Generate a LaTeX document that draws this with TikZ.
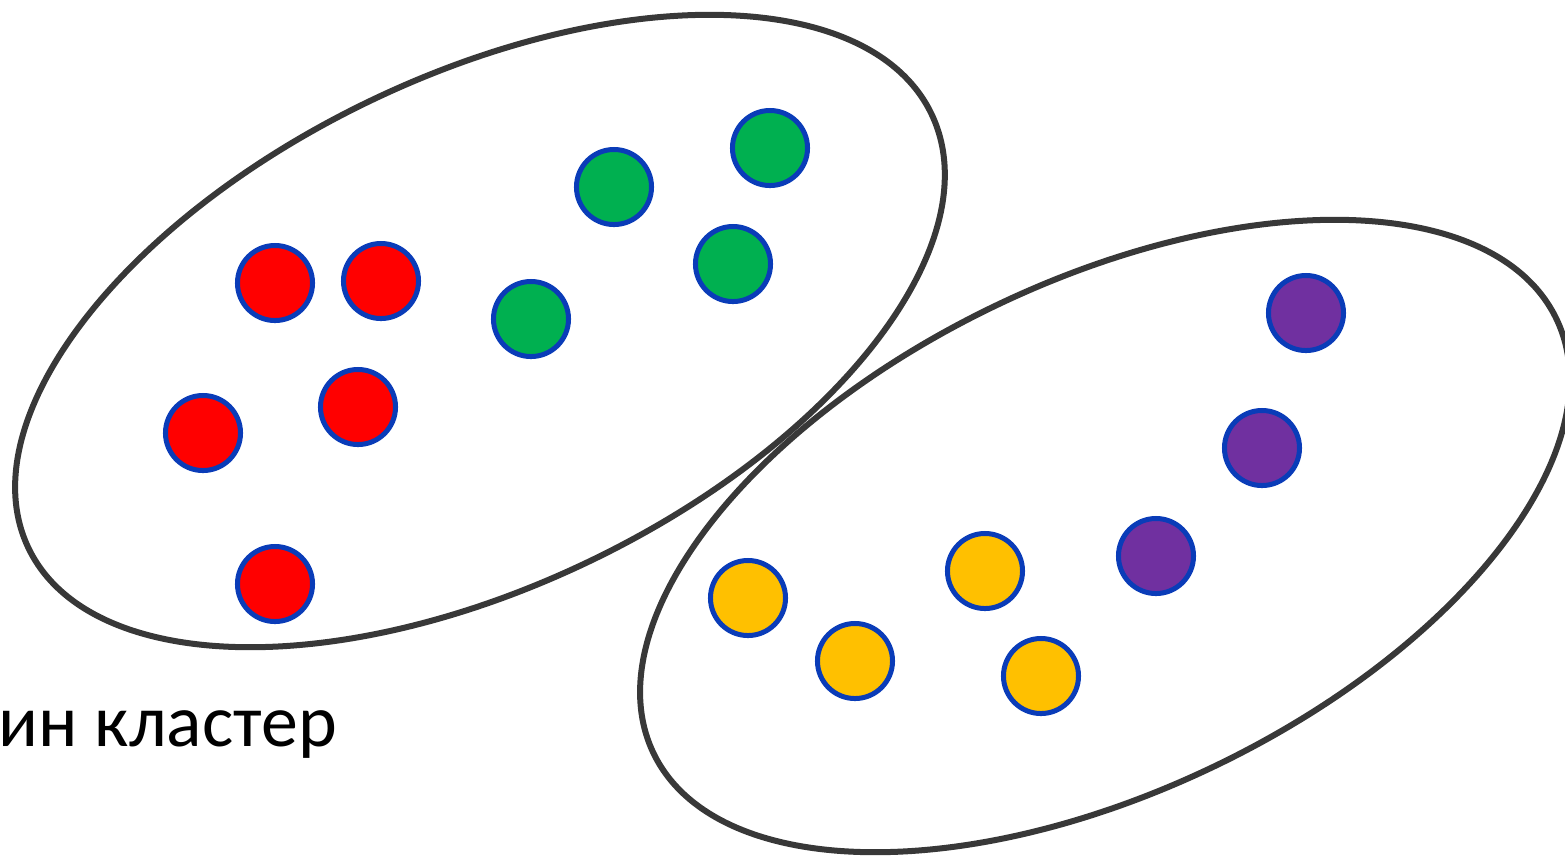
\documentclass[tikz,border=0pt]{standalone}
\usepackage{fontspec}
\newfontfamily\labelfont{Carlito}
\definecolor{ptred}{HTML}{FF0000}
\definecolor{ptgreen}{HTML}{00B050}
\definecolor{ptyellow}{HTML}{FFC000}
\definecolor{ptpurple}{HTML}{7030A0}
\definecolor{ptrim}{HTML}{0A3CB8}
\definecolor{hullgray}{HTML}{383838}
\usetikzlibrary{positioning}

\begin{document}
\begin{tikzpicture}[x=0.01cm, y=-0.01cm,
    dot/.style={circle, draw=ptrim, line width=0.05cm, minimum size=0.75cm, inner sep=0pt},
    hull/.style={draw=hullgray, line width=0.06cm},
    caption/.style={font=\labelfont\fontsize{21}{25}\selectfont, inner sep=0pt}
  ]
    \useasboundingbox (0,0) rectangle (1565,856);

    % cluster outlines
    \coordinate (c1) at (480,331);
    \coordinate (c2) at (1105,536);
    \draw[hull, rotate around={25.7:(c1)}] (c1) ellipse [x radius=501, y radius=255];
    \draw[hull, rotate around={25.7:(c2)}] (c2) ellipse [x radius=501, y radius=255];

    % red points
    \node[dot, fill=ptred] (r1) at (275,283) {};
    \node[dot, fill=ptred] (r2) at (381,281) {};
    \node[dot, fill=ptred] (r3) at (203,433) {};
    \node[dot, fill=ptred] (r4) at (358,407) {};
    \node[dot, fill=ptred] (r5) at (275,584) {};

    % green points
    \node[dot, fill=ptgreen] (g1) at (614,187) {};
    \node[dot, fill=ptgreen] (g2) at (770,148) {};
    \node[dot, fill=ptgreen] (g3) at (733,264) {};
    \node[dot, fill=ptgreen] (g4) at (531,319) {};

    % yellow points
    \node[dot, fill=ptyellow] (y1) at (748,598) {};
    \node[dot, fill=ptyellow] (y2) at (855,661) {};
    \node[dot, fill=ptyellow] (y3) at (985,571) {};
    \node[dot, fill=ptyellow] (y4) at (1041,676) {};

    % purple points
    \node[dot, fill=ptpurple] (p1) at (1306,313) {};
    \node[dot, fill=ptpurple] (p2) at (1262,448) {};
    \node[dot, fill=ptpurple] (p3) at (1156,556) {};

    \node[caption, anchor=base west] (cap) at (-2,746) {ин кластер};
\end{tikzpicture}
\end{document}
